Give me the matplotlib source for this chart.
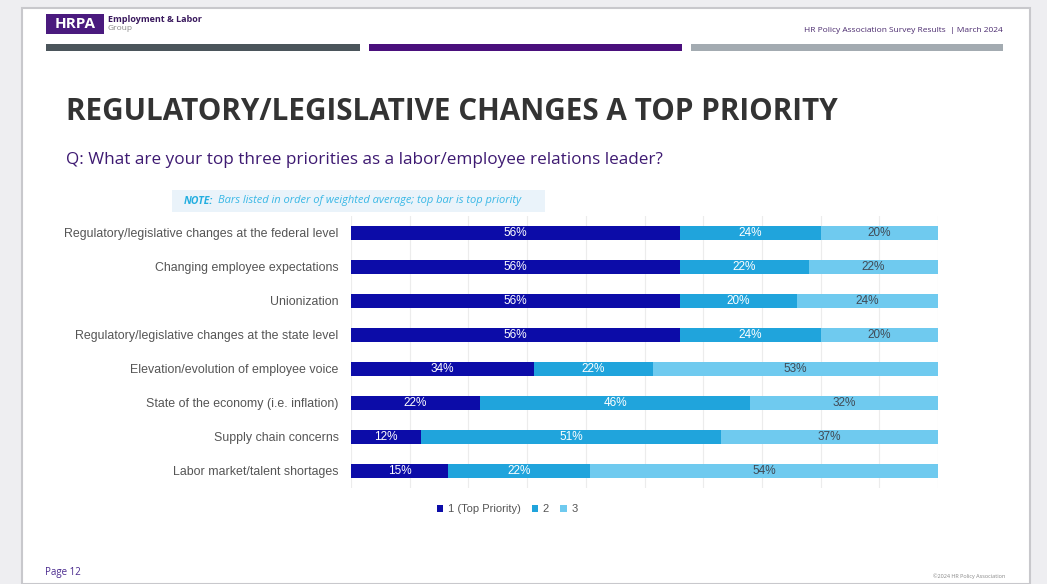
import numpy as np
import matplotlib
matplotlib.use("Agg")
import matplotlib.pyplot as plt
from matplotlib.patches import Rectangle

# data, top bar first
categories = [
    "Regulatory/legislative changes at the federal level",
    "Changing employee expectations",
    "Unionization",
    "Regulatory/legislative changes at the state level",
    "Elevation/evolution of employee voice",
    "State of the economy (i.e. inflation)",
    "Supply chain concerns",
    "Labor market/talent shortages",
]
rank1 = [56, 56, 56, 56, 34, 22, 12, 15]
rank2 = [24, 22, 20, 24, 22, 46, 51, 22]
rank3 = [20, 22, 24, 20, 53, 32, 37, 54]
series_names = ["1 (Top Priority)", "2", "3"]
colors = ["#0c0ca8", "#20a4dc", "#6fcaef"]
label_colors = ["white", "white", "#404a55"]

W, H = 1047, 584
fig = plt.figure(figsize=(W / 100, H / 100), dpi=100)
fig.patch.set_facecolor("#eeeef1")


def fx(x):
    return x / W


def fy(y):
    return 1 - y / H


# slide
fig.patches.append(Rectangle((fx(22), fy(584)), fx(1030) - fx(22), fy(8) - fy(584),
                             transform=fig.transFigure, facecolor="white",
                             edgecolor="#c8c8cc", lw=1.5, zorder=-5))

# header
fig.patches.append(Rectangle((fx(46), fy(34)), fx(58), 20 / H, transform=fig.transFigure,
                             facecolor="#4a1a7e", edgecolor="none"))
fig.text(fx(75), fy(24.5), "HRPA", color="white", fontsize=11, fontweight="bold",
         ha="center", va="center", family="Open Sans")
fig.text(fx(108), fy(20), "Employment & Labor", color="#3a1a5e", fontsize=6.5,
         fontweight="bold", va="center", family="Open Sans")
fig.text(fx(108), fy(29), "Group", color="#888888", fontsize=6, va="center", family="Open Sans")
fig.text(fx(1003), fy(31), "HR Policy Association Survey Results  | March 2024",
         color="#4a2a6e", fontsize=6, ha="right", va="center", family="Open Sans")
for x0, x1, c in [(46, 360, "#4b555b"), (369, 682, "#4a0f7c"), (691, 1003, "#a3abb1")]:
    fig.patches.append(Rectangle((fx(x0), fy(51)), fx(x1) - fx(x0), 7 / H,
                                 transform=fig.transFigure, facecolor=c, edgecolor="none"))

fig.text(fx(66), fy(112), "REGULATORY/LEGISLATIVE CHANGES A TOP PRIORITY", color="#333333",
         fontsize=21.3, fontweight="bold", va="center", family="Open Sans")
fig.text(fx(66), fy(160), "Q: What are your top three priorities as a labor/employee relations leader?",
         color="#3e1a72", fontsize=12.3, va="center", family="Open Sans")

# note box
fig.patches.append(Rectangle((fx(172), fy(212)), fx(545) - fx(172), 22 / H,
                             transform=fig.transFigure, facecolor="#eaf3fa", edgecolor="none"))
fig.text(fx(184), fy(201), "NOTE:", color="#22aee0", fontsize=7.5, fontweight="bold",
         style="italic", va="center", family="Open Sans")
fig.text(fx(218), fy(201), "Bars listed in order of weighted average; top bar is top priority",
         color="#3ab8e6", fontsize=8.0, style="italic", va="center", family="Open Sans")

# chart
ax = fig.add_axes([fx(351), fy(488), fx(938) - fx(351), fy(216) - fy(488)], zorder=2)
ax.patch.set_alpha(0)
data = np.array([rank1, rank2, rank3], dtype=float)
shares = data / data.sum(axis=0) * 100
y = np.arange(len(categories))
left = np.zeros(len(categories))
for i in range(3):
    ax.barh(y, shares[i], left=left, height=0.42, color=colors[i], label=series_names[i], zorder=2)
    for j in range(len(categories)):
        ax.text(left[j] + shares[i][j] / 2, y[j], f"{int(data[i][j])}%", ha="center", va="center",
                color=label_colors[i], fontsize=8.5, family="Liberation Sans", zorder=3)
    left += shares[i]

ax.set_xlim(0, 100)
ax.set_ylim(len(categories) - 0.5, -0.5)
ax.set_xticks(np.arange(0, 101, 10))
ax.xaxis.grid(True, color="#ececec", lw=0.8, zorder=0)
ax.tick_params(axis="x", length=0, labelbottom=False)
ax.tick_params(axis="y", length=0, pad=9)
ax.set_yticks(y)
ax.set_yticklabels(categories, fontsize=8.9, color="#555555", family="Liberation Sans")
for s in ax.spines.values():
    s.set_visible(False)

leg = fig.legend(loc="center", bbox_to_anchor=(fx(507), fy(509)), ncol=3, frameon=False,
                 handlelength=0.6, handleheight=0.6, handletextpad=0.4,
                 columnspacing=1.0, prop={"family": "Liberation Sans", "size": 8})
for t in leg.get_texts():
    t.set_color("#555555")

# footer
fig.text(fx(45), fy(572), "Page 12", color="#4a2a8e", fontsize=7, va="center", family="Open Sans")
fig.text(fx(1005), fy(576), "©2024 HR Policy Association", color="#888888", fontsize=4,
         ha="right", va="center", family="Open Sans")

fig.savefig("out.png", dpi=100, facecolor=fig.get_facecolor())
